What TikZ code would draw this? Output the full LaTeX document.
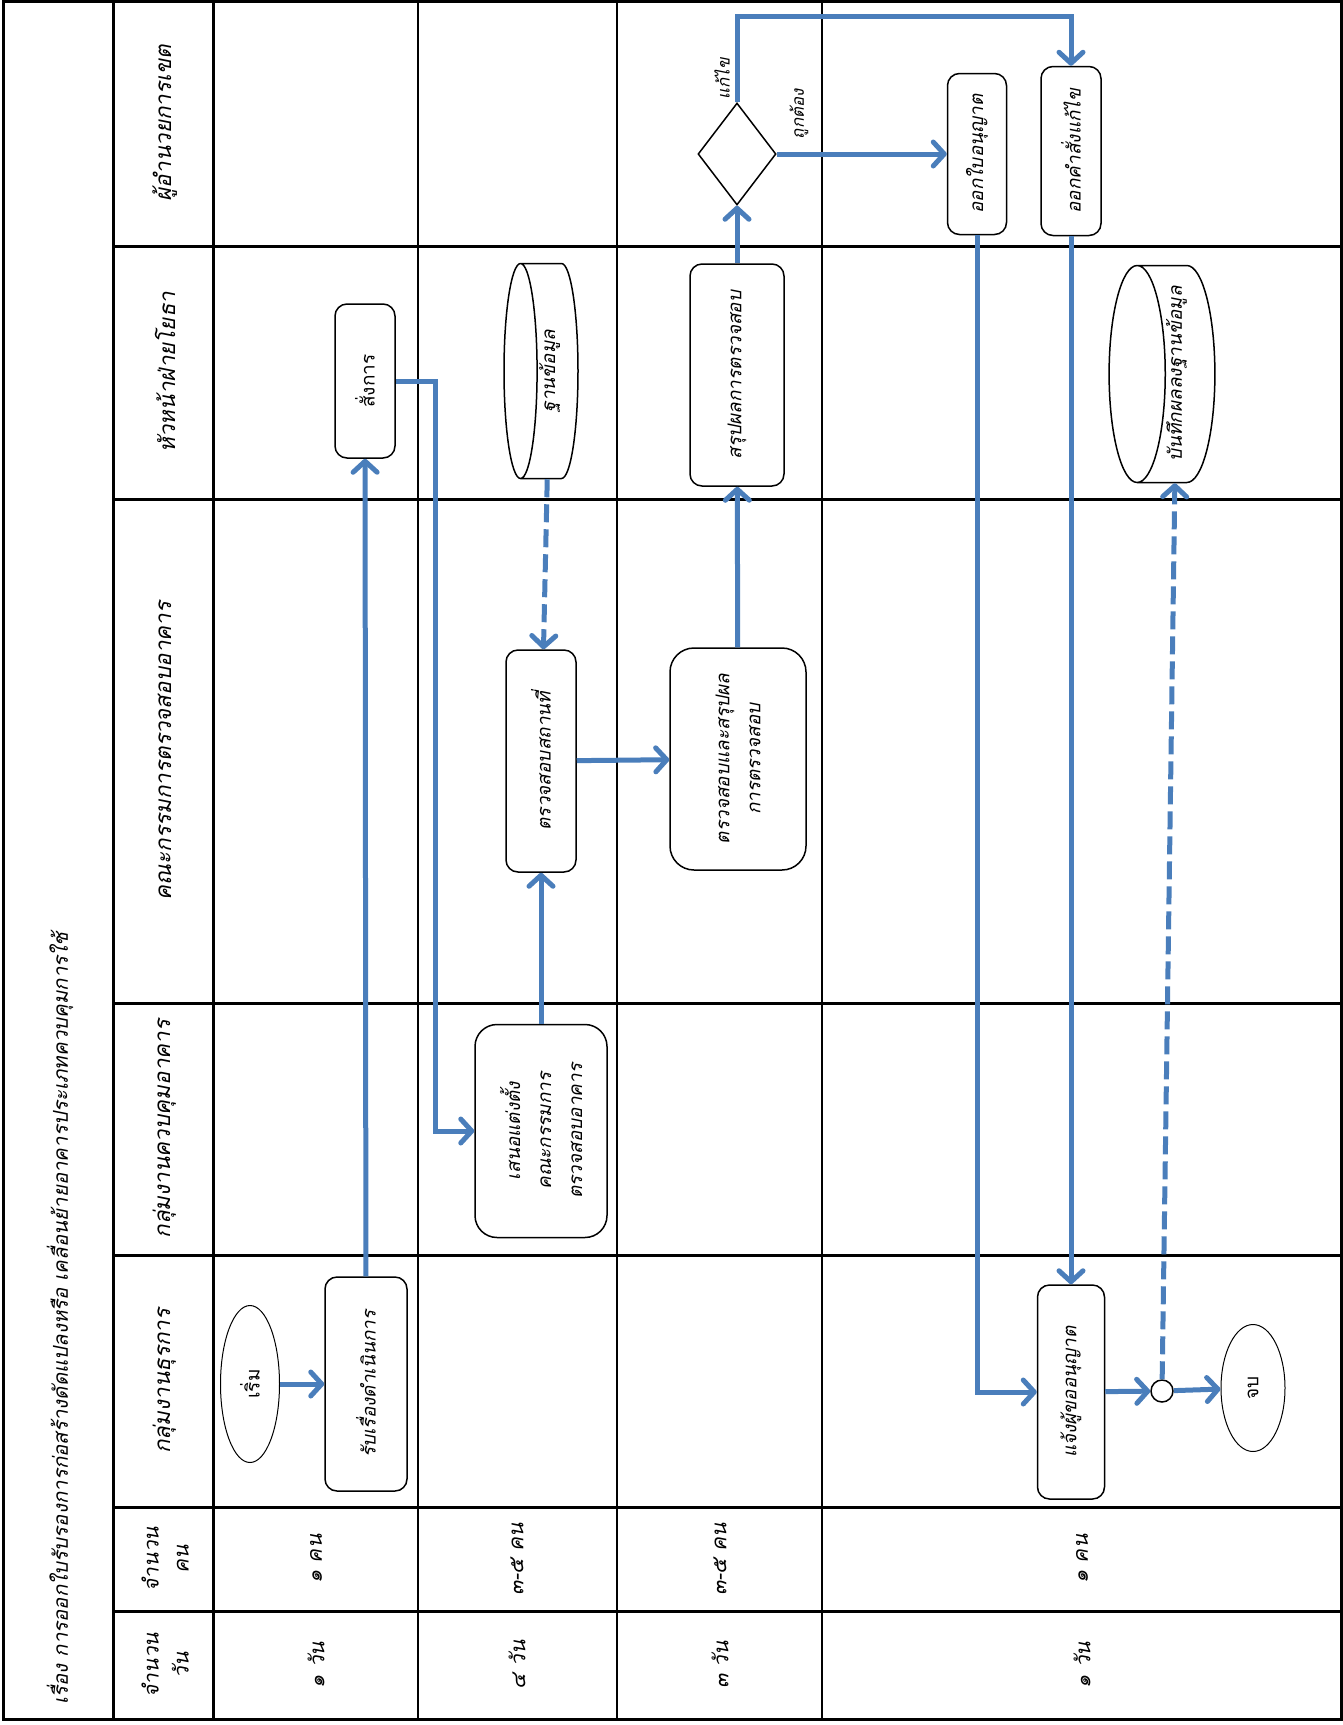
\documentclass[tikz,border=0pt]{standalone}
\usepackage{fontspec}
\newfontfamily\thaifont[Script=Thai]{Loma}
\newfontfamily\thaislant[Script=Thai,FakeSlant=0.2]{Loma}
\usetikzlibrary{positioning,calc,shapes.geometric,arrows.meta}
\definecolor{flowblue}{RGB}{74,126,187}

\begin{document}
\begin{tikzpicture}[x=1pt,y=-1pt,
	every node/.style={font=\thaislant\fontsize{19}{31}\selectfont},
	lane/.style={rotate=90,align=center,font=\thaislant\fontsize{22.5}{32}\selectfont},
	cell/.style={rotate=90,font=\thaislant\fontsize{21}{28}\selectfont},
	note/.style={rotate=90,font=\thaislant\fontsize{17}{20}\selectfont},
	box/.style={draw,rectangle,rounded corners=12pt,line width=1.5pt,rotate=90,align=center,inner sep=0pt},
	term/.style={draw,ellipse,line width=1pt,rotate=90,inner sep=0pt,font=\thaifont\fontsize{19}{31}\selectfont},
	store/.style={draw,cylinder,shape border rotate=180,aspect=0.32,line width=1.5pt,inner sep=0pt,anchor=shape center},
	choice/.style={draw,diamond,line width=1.5pt,inner sep=0pt,minimum width=78pt,minimum height=102pt},
	junction/.style={draw,circle,line width=1.5pt,inner sep=0pt,minimum size=22pt},
	flow/.style={draw=flowblue,line width=5pt,-{Straight Barb[length=11pt,width=24pt,round]}},
	dflow/.style={flow,dash pattern=on 18pt off 7pt},
	heavy/.style={line width=3pt},
	light/.style={line width=1.3pt}]
	\useasboundingbox (0,0) rectangle (1343,1725);

	\draw[light] (418,0) -- (418,1720) (617,0) -- (617,1720) (822,0) -- (822,1720);
	\foreach \y in {246,499,1003,1255,1507,1611}
		\draw[heavy] (113,\y) -- (1341,\y);
	\draw[heavy] (113,0) -- (113,1720) (213,0) -- (213,1720);
	\draw[heavy] (3,1.5) rectangle (1341,1719);

	\node (title) [lane,anchor=west,font=\thaislant\fontsize{20.5}{28}\selectfont] at (60,1708) {เรื่อง การออกใบรับรองการก่อสร้างดัดแปลงหรือ เคลื่อนย้ายอาคารประเภทควบคุมการใช้};
	\node (laneA) [lane] at (165,123)  {ผู้อำนวยการเขต};
	\node (laneB) [lane] at (165,372)  {หัวหน้าฝ่ายโยธา};
	\node (laneC) [lane] at (165,751)  {คณะกรรมการตรวจสอบอาคาร};
	\node (laneD) [lane] at (165,1129) {กลุ่มงานควบคุมอาคาร};
	\node (laneE) [lane] at (165,1381) {กลุ่มงานธุรการ};
	\node (staff) [lane,font=\thaislant\fontsize{21}{30}\selectfont] at (165,1559) {จำนวน\\คน};
	\node (days)  [lane,font=\thaislant\fontsize{21}{30}\selectfont] at (165,1665) {จำนวน\\วัน};

	\node (staffA) [cell] at (316,1559)  {๑ คน};
	\node (staffB) [cell] at (517,1559)  {๓-๕ คน};
	\node (staffC) [cell] at (720,1559)  {๓-๕ คน};
	\node (staffD) [cell] at (1082,1559) {๑ คน};
	\node (daysA)  [cell] at (316,1665)  {๑ วัน};
	\node (daysB)  [cell] at (517,1665)  {๔ วัน};
	\node (daysC)  [cell] at (720,1665)  {๓ วัน};
	\node (daysD)  [cell] at (1082,1665) {๑ วัน};

	\node (start)    [term,minimum width=157pt,minimum height=59pt] at (250,1384) {เริ่ม};
	\node (recv)     [box,minimum width=214pt,minimum height=82pt] at (366,1384) {รับเรื่องดำเนินการ};
	\node (order)    [box,minimum width=154pt,minimum height=60pt,font=\thaifont\fontsize{19}{31}\selectfont] at (365,381) {สั่งการ};
	\node (db)       [store,aspect=0.4,minimum width=215pt,minimum height=74pt] at (541,371) {\rotatebox{90}{ฐานข้อมูล}};
	\node (propose)  [box,rounded corners=22pt,minimum width=213pt,minimum height=132pt] at (541,1131) {เสนอแต่งตั้ง\\คณะกรรมการ\\ตรวจสอบอาคาร};
	\node (site)     [box,minimum width=222pt,minimum height=70pt] at (541,761) {ตรวจสอบสถานที่};
	\node (checksum) [box,rounded corners=24pt,minimum width=222pt,minimum height=136pt] at (738,759) {ตรวจสอบและสรุปผล\\การตรวจสอบ};
	\node (summary)  [box,minimum width=222pt,minimum height=94pt] at (737,375) {สรุปผลการตรวจสอบ};
	\node (decide)   [choice] at (737,154) {};
	\node (permit)   [box,minimum width=161pt,minimum height=59pt] at (977,154) {ออกใบอนุญาต};
	\node (fixorder) [box,minimum width=169pt,minimum height=60pt] at (1071,151) {ออกคำสั่งแก้ไข};
	\node (record)   [store,minimum width=217pt,minimum height=101pt] at (1162,374) {\rotatebox{90}{บันทึกผลลงฐานข้อมูล}};
	\node (notify)   [box,minimum width=214pt,minimum height=67pt] at (1071,1392) {แจ้งผู้ขออนุญาต};
	\node (joint)    [junction] at (1162,1391) {};
	\node (finish)   [term,minimum width=127pt,minimum height=64pt] at (1253,1388) {จบ};

	\node (oklabel)  [note] at (799,114) {ถูกต้อง};
	\node (fixlabel) [note] at (722,79)  {แก้ไข};

	\draw[flow]  (start) -- (recv);
	\draw[flow]  (recv) -- (order);
	\draw[flow]  (order.south) -- ++(40,0) |- (propose.north);
	\draw[dflow] (db) -- (site);
	\draw[flow]  (propose) -- (site);
	\draw[flow]  (site) -- (checksum);
	\draw[flow]  (checksum) -- (summary);
	\draw[flow]  (summary) -- (decide);
	\draw[flow]  (decide) -- (permit);
	\draw[flow]  (decide.north) -- ++(0,-86) -| (fixorder);
	\draw[flow]  (permit) |- (notify);
	\draw[flow]  (fixorder) -- (notify);
	\draw[flow]  (notify) -- (joint);
	\draw[flow]  (joint) -- (finish);
	\draw[dflow] (joint) -- (record);
\end{tikzpicture}
\end{document}
